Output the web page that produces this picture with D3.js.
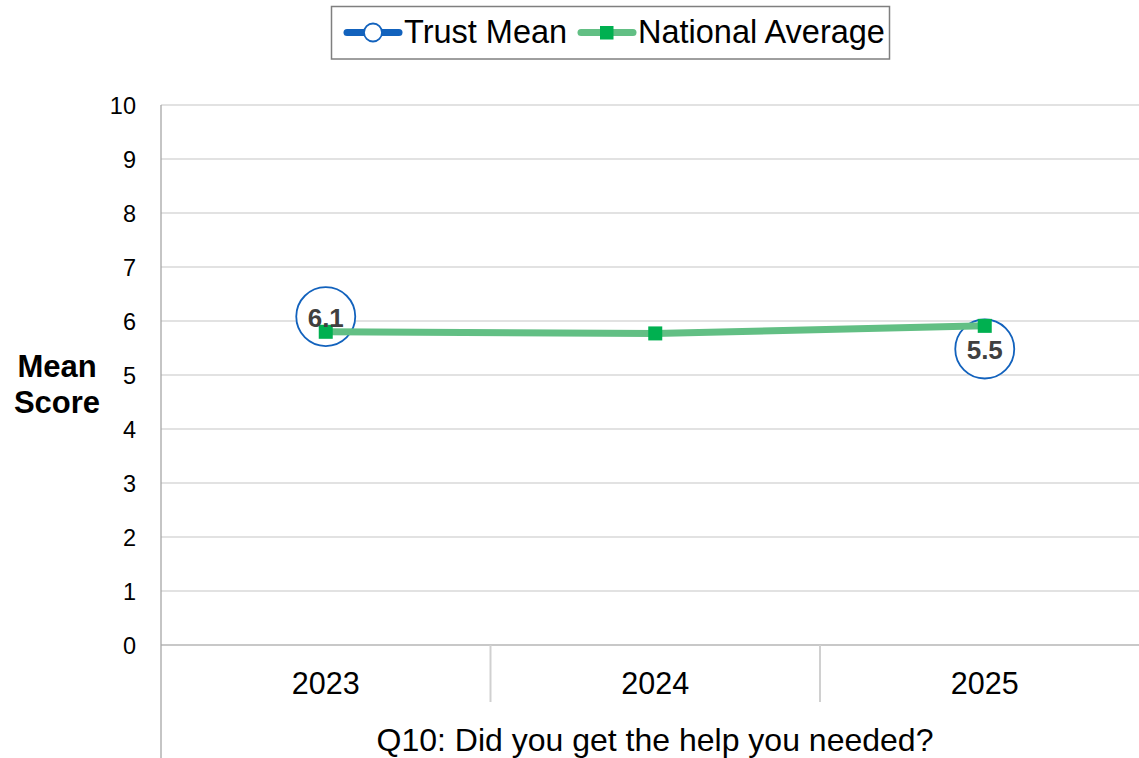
<!DOCTYPE html>
<html>
<head>
<meta charset="utf-8">
<script src="https://cdn.jsdelivr.net/npm/d3@7"></script>
<style>
  body { margin: 0; background: #fff; }
  svg { display: block; font-family: Arial, 'Liberation Sans', sans-serif; }
</style>
</head>
<body>
<svg id="chart" width="1139" height="758"></svg>
<script>
const years = ['2023', '2024', '2025']
const trustMean = [6.1, null, 5.5]
const nationalAverage = [5.8, 5.77, 5.91]
const yTicks = [0, 1, 2, 3, 4, 5, 6, 7, 8, 9, 10]

const svg = d3.select('#chart')
const plotLeft = 161
const plotTop = 105
const plotBottom = 645
const bandW = 329.5

const x = d3.scaleBand()
  .domain(years)
  .range([plotLeft, plotLeft + bandW * years.length])

const y = d3.scaleLinear()
  .domain([0, 10])
  .range([plotBottom, plotTop])

// gridlines
svg.append('g')
  .selectAll('line')
  .data(yTicks.filter(d => d > 0))
  .enter()
  .append('line')
  .attr('x1', plotLeft)
  .attr('x2', 1139)
  .attr('y1', d => y(d))
  .attr('y2', d => y(d))
  .style('stroke', '#d9d9d9')
  .style('stroke-width', 1.3)

// y tick labels
svg.append('g')
  .selectAll('text')
  .data(yTicks)
  .enter()
  .append('text')
  .attr('x', 136)
  .attr('y', d => y(d) + 8.5)
  .attr('text-anchor', 'end')
  .style('font-size', '23.5px')
  .style('fill', '#000')
  .text(d => d)

// axes
svg.append('line')
  .attr('x1', plotLeft).attr('x2', 1139)
  .attr('y1', plotBottom).attr('y2', plotBottom)
  .style('stroke', '#c8c8c8')
  .style('stroke-width', 2)

svg.append('line')
  .attr('x1', plotLeft).attr('x2', plotLeft)
  .attr('y1', plotTop).attr('y2', 758)
  .style('stroke', '#a6a6a6')
  .style('stroke-width', 1.3)

// category separators
svg.append('g')
  .selectAll('line')
  .data(years.slice(1))
  .enter()
  .append('line')
  .attr('x1', d => x(d))
  .attr('x2', d => x(d))
  .attr('y1', plotBottom)
  .attr('y2', 702)
  .style('stroke', '#d0d0d0')
  .style('stroke-width', 2)

// x labels
svg.append('g')
  .selectAll('text')
  .data(years)
  .enter()
  .append('text')
  .attr('x', d => x(d) + x.bandwidth() / 2)
  .attr('y', 694)
  .attr('text-anchor', 'middle')
  .style('font-size', '30.5px')
  .text(d => d)

svg.append('text')
  .attr('x', 655)
  .attr('y', 751)
  .attr('text-anchor', 'middle')
  .style('font-size', '32px')
  .text('Q10: Did you get the help you needed?')

const yTitle = svg.append('text')
  .attr('text-anchor', 'middle')
  .style('font-size', '31px')
  .style('font-weight', 'bold')
yTitle.append('tspan').attr('x', 57).attr('y', 377).text('Mean')
yTitle.append('tspan').attr('x', 57).attr('y', 413).text('Score')

const cx = i => x(years[i]) + x.bandwidth() / 2

// trust mean markers
const trustPts = trustMean.map((v, i) => ({ v, i })).filter(d => d.v !== null)
svg.append('g')
  .selectAll('circle')
  .data(trustPts)
  .enter()
  .append('circle')
  .attr('cx', d => cx(d.i))
  .attr('cy', d => y(d.v) + 1)
  .attr('r', 29.5)
  .style('fill', '#fff')
  .style('stroke', '#1262bd')
  .style('stroke-width', 1.8)

// national average line
const line = d3.line()
  .x((d, i) => cx(i))
  .y(d => y(d))

svg.append('path')
  .attr('d', line(nationalAverage))
  .style('fill', 'none')
  .style('stroke', '#62bf84')
  .style('stroke-width', 7)
  .style('stroke-linecap', 'round')

svg.append('g')
  .selectAll('rect')
  .data(nationalAverage)
  .enter()
  .append('rect')
  .attr('x', (d, i) => cx(i) - 7)
  .attr('y', d => y(d) - 7)
  .attr('width', 14)
  .attr('height', 14)
  .style('fill', '#00b050')

// data labels
svg.append('g')
  .selectAll('text')
  .data(trustPts)
  .enter()
  .append('text')
  .attr('x', d => cx(d.i))
  .attr('y', d => y(d.v) + 11)
  .attr('text-anchor', 'middle')
  .style('font-size', '26px')
  .style('font-weight', 'bold')
  .style('fill', '#404040')
  .text(d => d.v.toFixed(1))

// legend
const legend = svg.append('g')
legend.append('rect')
  .attr('x', 331.5).attr('y', 6.5)
  .attr('width', 558).attr('height', 52.5)
  .style('fill', '#fff')
  .style('stroke', '#7f7f7f')
  .style('stroke-width', 1.5)

legend.append('line')
  .attr('x1', 347).attr('x2', 399)
  .attr('y1', 32.5).attr('y2', 32.5)
  .style('stroke', '#1262bd')
  .style('stroke-width', 7)
  .style('stroke-linecap', 'round')
legend.append('circle')
  .attr('cx', 373).attr('cy', 32.5).attr('r', 9)
  .style('fill', '#fff')
  .style('stroke', '#1262bd')
  .style('stroke-width', 1.8)
legend.append('text')
  .attr('x', 404).attr('y', 43)
  .style('font-size', '32.5px')
  .text('Trust Mean')

legend.append('line')
  .attr('x1', 581).attr('x2', 633)
  .attr('y1', 32.5).attr('y2', 32.5)
  .style('stroke', '#62bf84')
  .style('stroke-width', 7)
  .style('stroke-linecap', 'round')
legend.append('rect')
  .attr('x', 600).attr('y', 26).attr('width', 13.5).attr('height', 13.5)
  .style('fill', '#00b050')
legend.append('text')
  .attr('x', 638).attr('y', 43)
  .style('font-size', '32.5px')
  .text('National Average')
</script>
</body>
</html>
